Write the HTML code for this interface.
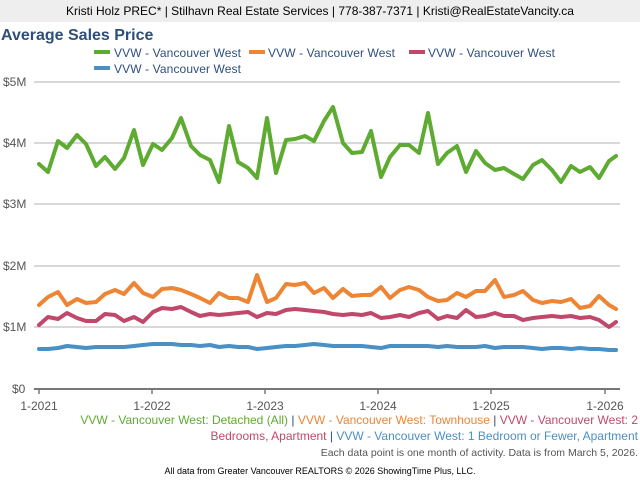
<!DOCTYPE html>
<html><head><meta charset="utf-8"><style>
body{margin:0;width:640px;height:480px;background:#fff;overflow:hidden;font-family:"Liberation Sans",sans-serif}
</style></head><body>
<svg width="640" height="480" xmlns="http://www.w3.org/2000/svg" font-family="Liberation Sans, sans-serif">
<rect x="0" y="0" width="640" height="22" fill="#eeeeee"/>
<text x="320" y="15" font-size="12" text-anchor="middle" fill="#000">Kristi Holz PREC* | Stilhavn Real Estate Services | 778-387-7371 | Kristi@RealEstateVancity.ca</text>
<text x="1" y="40" font-size="16" font-weight="bold" fill="#2e4f7a">Average Sales Price</text>
<rect x="94" y="50" width="16" height="4" fill="#5dab31"/><text x="114" y="57" font-size="12" fill="#2e4f7a" textLength="127">VVW - Vancouver West</text>
<rect x="249" y="50" width="16" height="4" fill="#ed8535"/><text x="268" y="57" font-size="12" fill="#2e4f7a" textLength="127">VVW - Vancouver West</text>
<rect x="409" y="50" width="16" height="4" fill="#c0496b"/><text x="428" y="57" font-size="12" fill="#2e4f7a" textLength="127">VVW - Vancouver West</text>
<rect x="94" y="66" width="16" height="4" fill="#4b90c4"/><text x="114" y="73" font-size="12" fill="#2e4f7a" textLength="127">VVW - Vancouver West</text>
<g stroke="#b0b0b0" stroke-width="1">
<line x1="34" y1="82" x2="620" y2="82"/><line x1="34" y1="143" x2="620" y2="143"/><line x1="34" y1="204" x2="620" y2="204"/><line x1="34" y1="266" x2="620" y2="266"/><line x1="34" y1="327" x2="620" y2="327"/>
</g>
<line x1="34" y1="389" x2="620" y2="389" stroke="#777" stroke-width="2"/>
<g stroke="#777" stroke-width="1.5"><line x1="39" y1="389" x2="39" y2="394"/><line x1="152" y1="389" x2="152" y2="394"/><line x1="265" y1="389" x2="265" y2="394"/><line x1="378" y1="389" x2="378" y2="394"/><line x1="491" y1="389" x2="491" y2="394"/><line x1="605" y1="389" x2="605" y2="394"/></g>
<g font-size="12" fill="#555">
<text x="3" y="86">$5M</text><text x="3" y="147">$4M</text><text x="3" y="208">$3M</text><text x="3" y="270">$2M</text><text x="3" y="331">$1M</text><text x="12" y="393">$0</text>
</g>
<g font-size="12" fill="#555" text-anchor="middle">
<text x="39" y="410">1-2021</text><text x="152" y="410">1-2022</text><text x="265" y="410">1-2023</text><text x="378" y="410">1-2024</text><text x="491" y="410">1-2025</text><text x="605" y="410">1-2026</text>
</g>
<g fill="none" stroke-width="4" stroke-linejoin="round" stroke-linecap="round">
<polyline stroke="#5dab31" points="39,164 48,172 58,141 67,148 77,135 86,144 96,166 105,157 115,169 124,158 134,130 143,165 153,144 162,150 172,138 181,118 191,146 200,155 210,160 219,182 229,126 238,162 248,168 257,178 267,118 276,173 286,140 295,139 305,136 314,141 324,121 333,107 343,143 352,153 362,152 371,131 381,177 390,157 400,145 409,145 419,153 428,113 438,164 447,153 457,146 466,172 476,151 485,163 495,170 504,168 514,174 523,179 533,165 542,160 552,170 561,182 571,166 580,172 590,167 599,178 609,161 616,156"/>
<polyline stroke="#ed8535" points="39,305 48,297 58,292 67,305 77,299 86,303 96,302 105,294 115,290 124,294 134,283 143,293 153,297 162,289 172,288 181,290 191,294 200,298 210,303 219,293 229,298 238,298 248,302 257,275 267,302 276,298 286,284 295,285 305,283 314,293 324,288 333,298 343,289 352,296 362,295 371,295 381,287 390,298 400,290 409,287 419,290 428,297 438,301 447,300 457,293 466,297 476,291 485,291 495,280 504,297 514,295 523,291 533,300 542,303 552,301 561,302 571,299 580,308 590,306 599,296 609,305 616,309"/>
<polyline stroke="#c0496b" points="39,325 48,317 58,319 67,313 77,318 86,321 96,321 105,314 115,315 124,321 134,317 143,322 153,312 162,308 172,309 181,307 191,312 200,316 210,314 219,315 229,314 238,313 248,312 257,317 267,313 276,314 286,310 295,309 305,310 314,311 324,312 333,314 343,315 352,314 362,315 371,313 381,318 390,317 400,315 409,317 419,313 428,311 438,319 447,316 457,318 466,310 476,317 485,316 495,313 504,316 514,316 523,320 533,318 542,317 552,316 561,317 571,316 580,318 590,317 599,320 609,327 616,322"/>
<polyline stroke="#4b90c4" points="39,349 48,349 58,348 67,346 77,347 86,348 96,347 105,347 115,347 124,347 134,346 143,345 153,344 162,344 172,344 181,345 191,345 200,346 210,345 219,347 229,346 238,347 248,347 257,349 267,348 276,347 286,346 295,346 305,345 314,344 324,345 333,346 343,346 352,346 362,346 371,347 381,348 390,346 400,346 409,346 419,346 428,346 438,347 447,346 457,347 466,347 476,347 485,346 495,348 504,347 514,347 523,347 533,348 542,349 552,348 561,348 571,349 580,348 590,349 599,349 609,350 616,350"/>
</g>
<text x="638" y="424" font-size="12" text-anchor="end"><tspan fill="#5dab31">VVW - Vancouver West: Detached (All)</tspan><tspan fill="#2e4f7a"> | </tspan><tspan fill="#ed8535">VVW - Vancouver West: Townhouse</tspan><tspan fill="#2e4f7a"> | </tspan><tspan fill="#c0496b">VVW - Vancouver West: 2</tspan></text>
<text x="638" y="440" font-size="12" text-anchor="end"><tspan fill="#c0496b">Bedrooms, Apartment</tspan><tspan fill="#2e4f7a"> | </tspan><tspan fill="#4b90c4">VVW - Vancouver West: 1 Bedroom or Fewer, Apartment</tspan></text>
<text x="638" y="456" font-size="10.5" text-anchor="end" fill="#555">Each data point is one month of activity. Data is from March 5, 2026.</text>
<text x="320" y="474" font-size="9" text-anchor="middle" fill="#000">All data from Greater Vancouver REALTORS © 2026 ShowingTime Plus, LLC.</text>
</svg>
</body></html>
